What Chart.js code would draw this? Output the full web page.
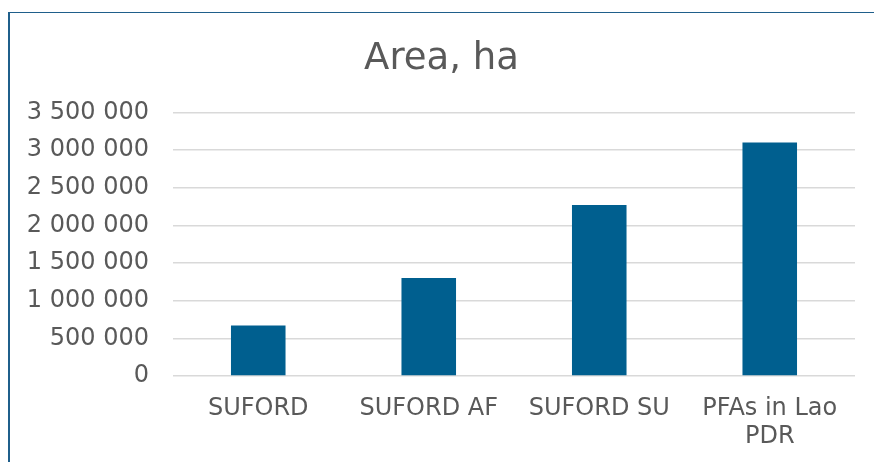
<!DOCTYPE html>
<html>
<head>
<meta charset="utf-8">
<script src="https://cdn.jsdelivr.net/npm/chart.js@4.4.1/dist/chart.umd.min.js"></script>
<style>
  html, body { margin: 0; padding: 0; background: #ffffff; }
  #box {
    position: absolute; left: 8px; top: 12px;
    width: 864px; height: 449px;
    border-left: 2px solid #1f5f8b; border-top: 1px solid #1f5f8b;
  }
</style>
</head>
<body>
<div id="box"><canvas id="area-chart"></canvas></div>
<script>
// Area chart data
// ------------------------------
var categories = ["SUFORD", "SUFORD AF", "SUFORD SU", ["PFAs in Lao", "PDR"]];
var areaValues = [670000, 1300000, 2270000, 3100000];
var yMax = 3500000;
var yStep = 500000;

var textColor = "#595959";
var fontFamily = "'DejaVu Sans', Verdana, sans-serif";

var ctx = document.getElementById("area-chart");

// Chart Options
var chartOptions = {
    responsive: true,
    maintainAspectRatio: false,
    animation: false,
    layout: { padding: { left: 18, right: 19, top: 0, bottom: 6 } },
    plugins: {
        legend: { display: false },
        tooltip: { enabled: false },
        title: {
            display: true,
            text: "Area, ha",
            color: textColor,
            font: { family: fontFamily, size: 37, weight: "normal" },
            padding: { top: 24, bottom: 31 }
        }
    },
    scales: {
        x: {
            grid: { display: false },
            border: { display: false },
            ticks: {
                color: textColor,
                font: { family: fontFamily, size: 24, lineHeight: 1.15 },
                padding: 11,
                maxRotation: 0
            },
            afterFit: function (scale) { scale.height = 80; }
        },
        y: {
            min: 0,
            max: yMax,
            grid: { color: "#d9d9d9", lineWidth: 1.5, drawTicks: false },
            border: { display: false },
            ticks: {
                stepSize: yStep,
                color: textColor,
                font: { family: fontFamily, size: 24 },
                padding: 24,
                callback: function (v) { return v.toLocaleString("en-US").replace(/,/g, " "); }
            },
            afterFit: function (scale) { scale.width = 145; }
        }
    }
};

// Chart Data
var chartData = {
    labels: categories,
    datasets: [{
        label: "Area, ha",
        data: areaValues,
        backgroundColor: "#005f8f",
        categoryPercentage: 1.0,
        barPercentage: 0.32
    }]
};

var config = {
    type: "bar",
    options: chartOptions,
    data: chartData
};

// Create the chart
var areaBarChart = new Chart(ctx, config);
</script>
</body>
</html>
